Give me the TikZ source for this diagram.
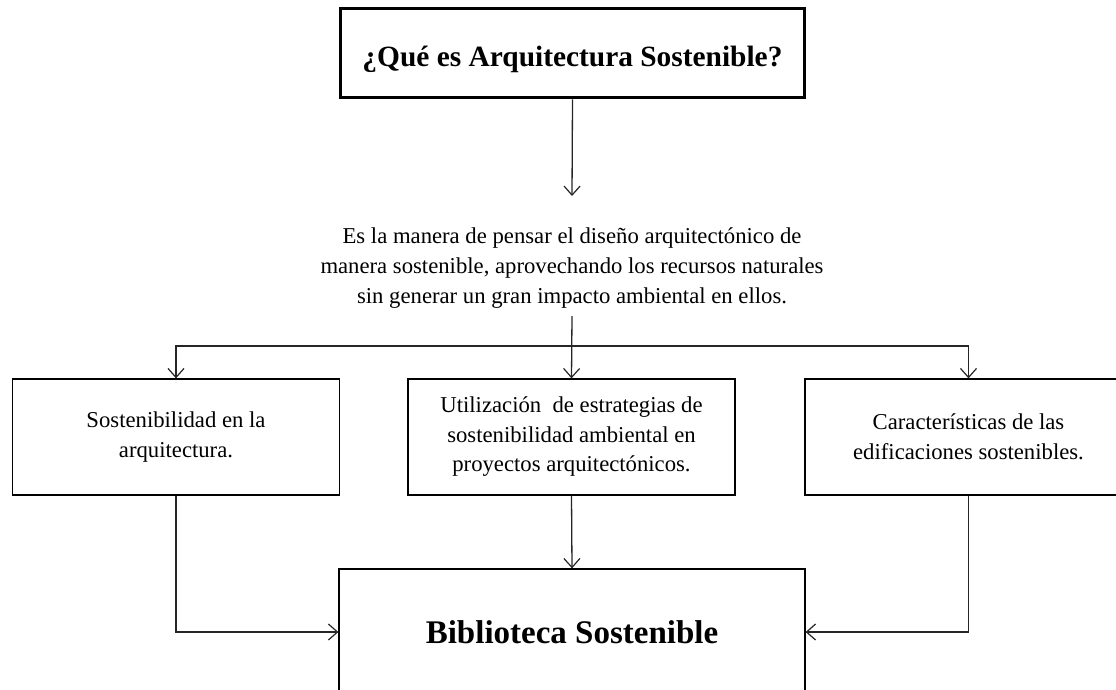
\documentclass[tikz,border=0pt]{standalone}
\usepackage{fontspec}
\setmainfont{Liberation Serif}
\usetikzlibrary{arrows.meta}
\begin{document}
\begin{tikzpicture}[x=1pt,y=-1pt,
  boxbase/.style={draw=black,line width=1.3pt,align=center,inner sep=0pt},
  sidebox/.style={boxbase,minimum width=327pt,minimum height=116pt,
    font=\fontsize{22.7}{29.5}\selectfont},
  titlebox/.style={boxbase,line width=3.6pt,minimum width=464pt,minimum height=89pt,
    text height=26pt,text depth=0pt,
    font=\bfseries\fontsize{29.4}{34}\selectfont},
  bibbox/.style={boxbase,minimum width=466pt,minimum height=126pt,
    font=\bfseries\fontsize{33}{38}\selectfont},
  desctext/.style={align=center,inner sep=0pt,font=\fontsize{22.7}{30}\selectfont},
  conn/.style={draw=black!85,line width=1.3pt},
  arr/.style={conn,-{Straight Barb[length=9pt,width=16pt,line width=1.2pt]}}
]
\useasboundingbox (0,0) rectangle (1116,689);
\node[titlebox] (top) at (572.5,53) {¿Qué es Arquitectura Sostenible?};
\node[desctext] (desc) at (572,268) {Es la manera de pensar el diseño arquitectónico de\\
manera sostenible, aprovechando los recursos naturales\\
sin generar un gran impacto ambiental en ellos.};
\coordinate (descin) at (572,196);
\coordinate (descout) at (572,316);
\coordinate (split) at (572,346);
\node[sidebox] (left) at (176,437) {Sostenibilidad en la\\ arquitectura.};
\node[sidebox] (mid) at (571.5,437) {Utilización\ \ de estrategias de\\ sostenibilidad ambiental\ en\\ proyectos arquitectónicos.};
\node[sidebox] (right) at (968.5,437) {Características de las\\ edificaciones\ sostenibles.};
\node[bibbox] (bib) at (572,632) {Biblioteca Sostenible};
\draw[arr] (top.south) -- (descin);
\draw[arr] (descout) -- (mid.north);
\draw[arr] (split) -| (left.north);
\draw[arr] (split) -| (right.north);
\draw[arr] (mid.south) -- (bib.north);
\draw[arr] (left.south) |- (bib.west);
\draw[arr] (right.south) |- (bib.east);
\end{tikzpicture}
\end{document}
